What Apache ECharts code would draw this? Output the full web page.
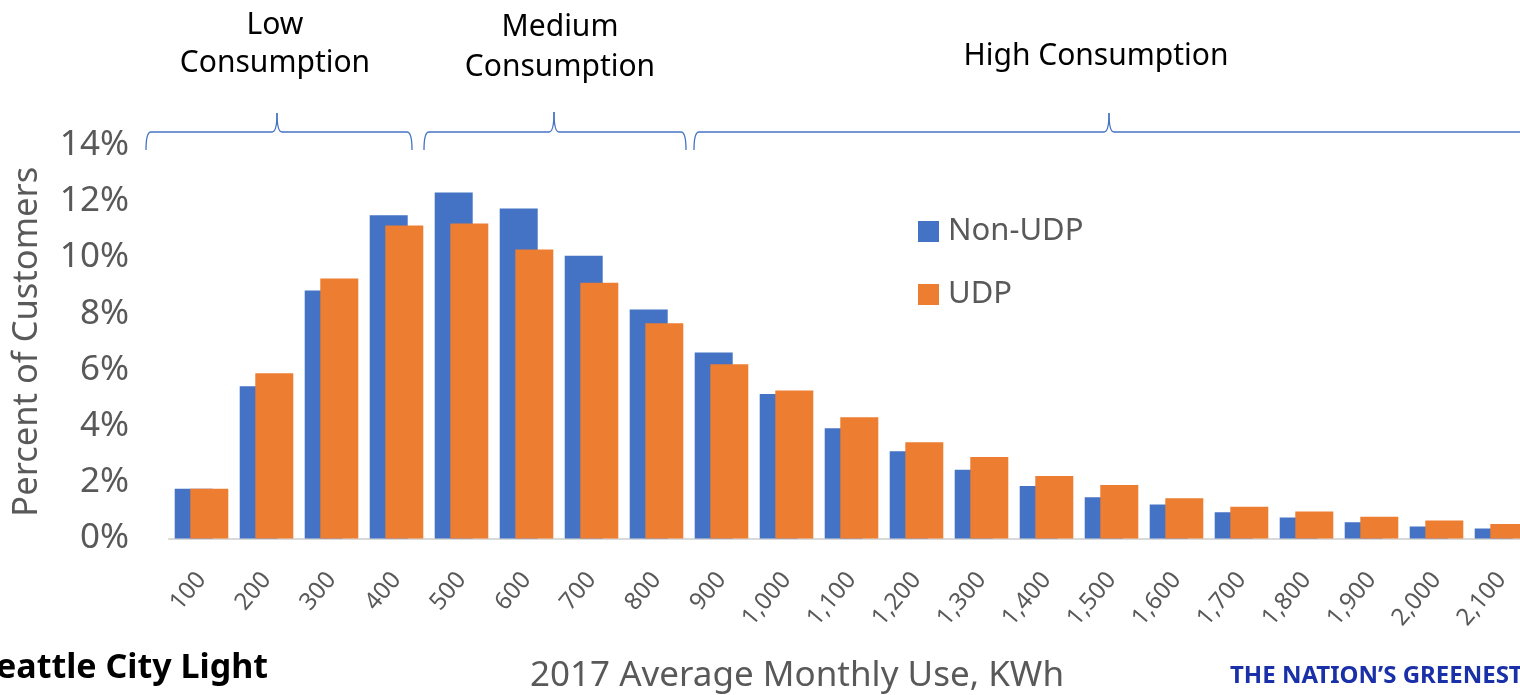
<!DOCTYPE html>
<html>
<head>
<meta charset="utf-8">
<script src="https://cdn.jsdelivr.net/npm/echarts@6/dist/echarts.min.js"></script>
<style>
html,body{margin:0;padding:0;background:#fff;}
#chart{width:1520px;height:695px;}
</style>
</head>
<body>
<div id="chart"></div>
<script>
var categories = ['100','200','300','400','500','600','700','800','900','1,000','1,100','1,200','1,300','1,400','1,500','1,600','1,700','1,800','1,900','2,000','2,100'];
var nonUdp = [1.77, 5.42, 8.82, 11.5, 12.31, 11.74, 10.06, 8.15, 6.62, 5.14, 3.92, 3.1, 2.45, 1.87, 1.47, 1.21, 0.93, 0.75, 0.58, 0.43, 0.36];
var udp = [1.77, 5.88, 9.25, 11.14, 11.21, 10.28, 9.1, 7.66, 6.2, 5.27, 4.31, 3.42, 2.9, 2.22, 1.9, 1.43, 1.13, 0.96, 0.77, 0.64, 0.52];
var yTicks = [0, 2, 4, 6, 8, 10, 12, 14];
var seriesNames = ['Non-UDP', 'UDP'];
var groupLabels = ['Low\nConsumption', 'Medium\nConsumption', 'High Consumption'];

var FONT = '"Noto Sans", "Open Sans", sans-serif';
var chart = echarts.init(document.getElementById('chart'));

var BR = { fill: null, stroke: '#4472C4', lineWidth: 1.3 };
function bracket(x1, xm, x2, y, peak) {
  var d = y + 18;
  return [
    { type: 'bezierCurve', shape: { x1: x1, y1: d, x2: x1 + 5, y2: y, cpx1: x1, cpy1: y }, style: BR },
    { type: 'line', shape: { x1: x1 + 5, y1: y, x2: xm - 5, y2: y }, style: BR },
    { type: 'bezierCurve', shape: { x1: xm - 5, y1: y, x2: xm, y2: peak, cpx1: xm, cpy1: y }, style: BR },
    { type: 'bezierCurve', shape: { x1: xm, y1: peak, x2: xm + 5, y2: y, cpx1: xm, cpy1: y }, style: BR },
    { type: 'line', shape: { x1: xm + 5, y1: y, x2: x2 - 5, y2: y }, style: BR },
    { type: 'bezierCurve', shape: { x1: x2 - 5, y1: y, x2: x2, y2: d, cpx1: x2, cpy1: y }, style: BR }
  ];
}

var graphics = []
  .concat(bracket(146, 277, 412, 132, 113))
  .concat(bracket(424, 554, 686, 132, 112))
  .concat(bracket(694, 1109, 1560, 132, 113))
  .concat([
    { type: 'text', x: 275, y: 44, style: { text: groupLabels[0], fontFamily: FONT, fontSize: 30, lineHeight: 38, fill: '#000', textAlign: 'center', textVerticalAlign: 'middle' } },
    { type: 'text', x: 560, y: 47, style: { text: groupLabels[1], fontFamily: FONT, fontSize: 30, lineHeight: 40, fill: '#000', textAlign: 'center', textVerticalAlign: 'middle' } },
    { type: 'text', x: 1096, y: 56, style: { text: groupLabels[2], fontFamily: FONT, fontSize: 30, fill: '#000', textAlign: 'center', textVerticalAlign: 'middle' } },
    { type: 'text', x: 797, y: 676, style: { text: '2017 Average Monthly Use, KWh', fontFamily: FONT, fontSize: 35, fill: '#595959', textAlign: 'center', textVerticalAlign: 'middle' } },
    { type: 'text', x: 268, y: 668, style: { text: 'Seattle City Light', fontFamily: FONT, fontSize: 34, fontWeight: 'bold', fill: '#000', textAlign: 'right', textVerticalAlign: 'middle' } },
    { type: 'text', x: 1230, y: 676, style: { text: 'THE NATION\u2019S GREENEST UTILITY', fontFamily: FONT, fontSize: 24, fontWeight: 'bold', fill: '#1a30a8', textAlign: 'left', textVerticalAlign: 'middle' } }
  ]);

var option = {
  animation: false,
  backgroundColor: '#ffffff',
  grid: { left: 169, top: 145, bottom: 156.5, width: 1365, containLabel: false, outerBoundsMode: 'none' },
  legend: {
    orient: 'vertical',
    left: 913,
    top: 211,
    itemWidth: 21,
    itemHeight: 21,
    itemGap: 32,
    icon: 'rect',
    data: seriesNames,
    textStyle: { fontFamily: FONT, fontSize: 31, color: '#595959', lineHeight: 30, padding: [0, 0, 0, 4] }
  },
  xAxis: {
    type: 'category',
    data: categories,
    axisLine: { lineStyle: { color: '#d9d9d9', width: 2 } },
    axisTick: { show: false },
    axisLabel: {
      interval: 0,
      rotate: 50,
      margin: 37,
      fontFamily: FONT,
      fontSize: 24,
      color: '#595959'
    }
  },
  yAxis: {
    type: 'value',
    min: 0,
    max: 14,
    interval: 2,
    splitLine: { show: false },
    axisLine: { show: false },
    axisTick: { show: false },
    axisLabel: {
      margin: 40,
      fontFamily: FONT,
      fontSize: 35,
      color: '#595959',
      formatter: function (v) { return yTicks.indexOf(v) >= 0 ? v + '%' : ''; }
    },
    name: 'Percent of Customers',
    nameLocation: 'middle',
    nameGap: 124,
    nameTextStyle: { fontFamily: FONT, fontSize: 34.5, color: '#595959' }
  },
  series: [
    {
      name: seriesNames[0],
      type: 'bar',
      data: nonUdp,
      barWidth: 38,
      barGap: '-59%',
      itemStyle: { color: '#4472C4' }
    },
    {
      name: seriesNames[1],
      type: 'bar',
      data: udp,
      barWidth: 38,
      barGap: '-59%',
      itemStyle: { color: '#ED7D31' }
    }
  ],
  graphic: graphics
};
chart.setOption(option);
</script>
</body>
</html>
